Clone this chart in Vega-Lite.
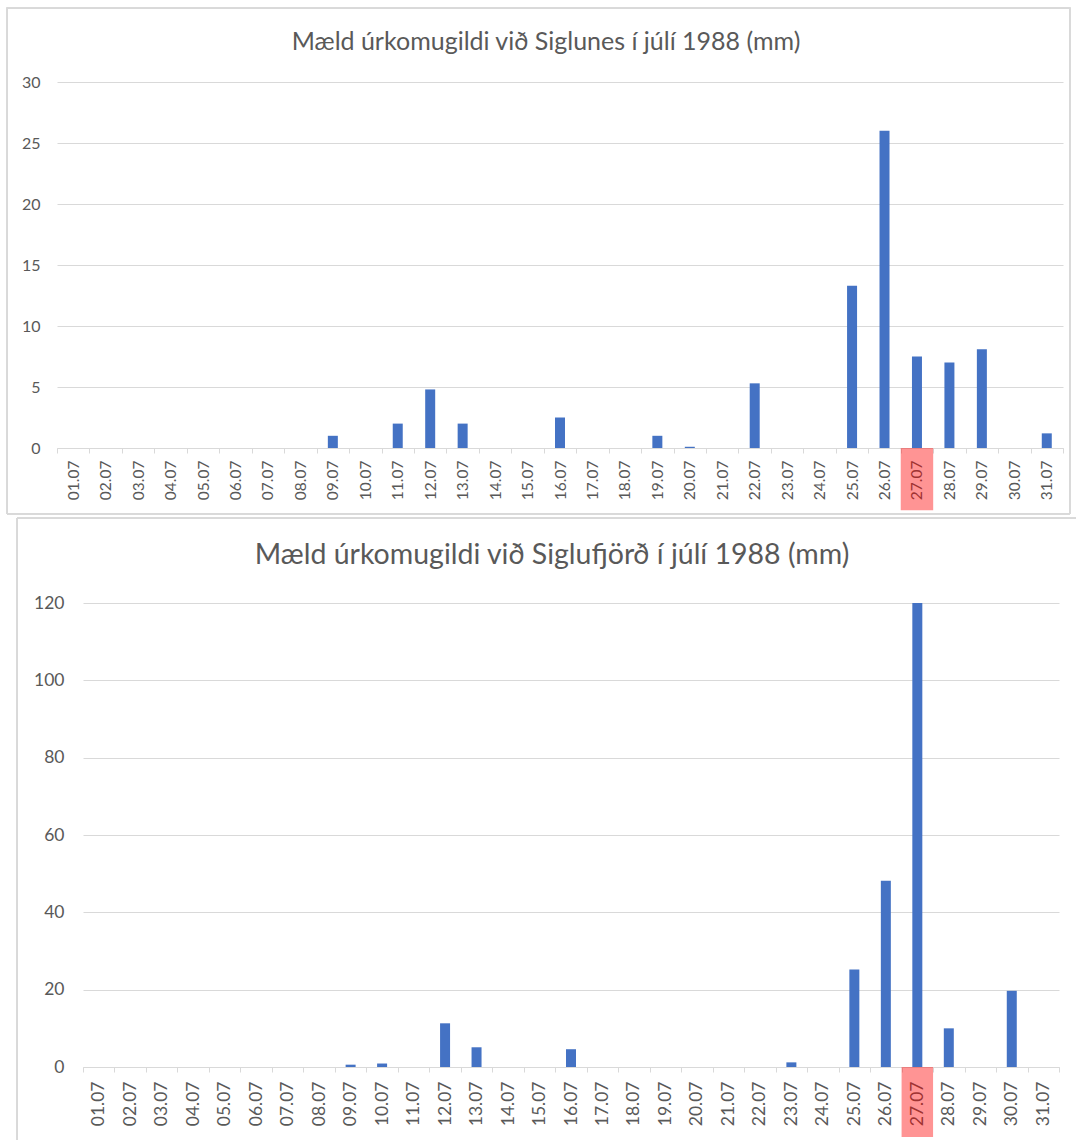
{
  "$schema": "https://vega.github.io/schema/vega-lite/v6.json",
  "background": "white",
  "padding": {"left": 0, "top": 7, "right": 0, "bottom": 0},
  "config": {
    "font": "Lato",
    "view": {"stroke": null},
    "axis": {"labelColor": "#595959", "titleColor": "#595959"}
  },
  "datasets": {
    "siglunes": [
      {"dagur": "01.07", "mm": 0}, {"dagur": "02.07", "mm": 0}, {"dagur": "03.07", "mm": 0}, {"dagur": "04.07", "mm": 0},
      {"dagur": "05.07", "mm": 0}, {"dagur": "06.07", "mm": 0}, {"dagur": "07.07", "mm": 0}, {"dagur": "08.07", "mm": 0},
      {"dagur": "09.07", "mm": 1.0}, {"dagur": "10.07", "mm": 0}, {"dagur": "11.07", "mm": 2.0}, {"dagur": "12.07", "mm": 4.8},
      {"dagur": "13.07", "mm": 2.0}, {"dagur": "14.07", "mm": 0}, {"dagur": "15.07", "mm": 0}, {"dagur": "16.07", "mm": 2.5},
      {"dagur": "17.07", "mm": 0}, {"dagur": "18.07", "mm": 0}, {"dagur": "19.07", "mm": 1.0}, {"dagur": "20.07", "mm": 0.1},
      {"dagur": "21.07", "mm": 0}, {"dagur": "22.07", "mm": 5.3}, {"dagur": "23.07", "mm": 0}, {"dagur": "24.07", "mm": 0},
      {"dagur": "25.07", "mm": 13.3}, {"dagur": "26.07", "mm": 26.0}, {"dagur": "27.07", "mm": 7.5}, {"dagur": "28.07", "mm": 7.0},
      {"dagur": "29.07", "mm": 8.1}, {"dagur": "30.07", "mm": 0}, {"dagur": "31.07", "mm": 1.2}
    ],
    "siglufjordur": [
      {"dagur": "01.07", "mm": 0}, {"dagur": "02.07", "mm": 0}, {"dagur": "03.07", "mm": 0}, {"dagur": "04.07", "mm": 0},
      {"dagur": "05.07", "mm": 0}, {"dagur": "06.07", "mm": 0}, {"dagur": "07.07", "mm": 0}, {"dagur": "08.07", "mm": 0},
      {"dagur": "09.07", "mm": 0.6}, {"dagur": "10.07", "mm": 0.9}, {"dagur": "11.07", "mm": 0}, {"dagur": "12.07", "mm": 11.3},
      {"dagur": "13.07", "mm": 5.1}, {"dagur": "14.07", "mm": 0}, {"dagur": "15.07", "mm": 0}, {"dagur": "16.07", "mm": 4.6},
      {"dagur": "17.07", "mm": 0}, {"dagur": "18.07", "mm": 0}, {"dagur": "19.07", "mm": 0}, {"dagur": "20.07", "mm": 0},
      {"dagur": "21.07", "mm": 0}, {"dagur": "22.07", "mm": 0}, {"dagur": "23.07", "mm": 1.2}, {"dagur": "24.07", "mm": 0},
      {"dagur": "25.07", "mm": 25.2}, {"dagur": "26.07", "mm": 48.2}, {"dagur": "27.07", "mm": 120}, {"dagur": "28.07", "mm": 10.0},
      {"dagur": "29.07", "mm": 0}, {"dagur": "30.07", "mm": 19.7}, {"dagur": "31.07", "mm": 0}
    ]
  },
  "spacing": 2,
  "vconcat": [
    {
      "width": 1006,
      "height": 366,
      "title": {"text": "Mæld úrkomugildi við Siglunes í júlí 1988 (mm)", "fontSize": 25, "fontWeight": "normal", "color": "#595959", "offset": -48, "frame": "group", "dx": -14},
      "data": {"name": "siglunes"},
      "layer": [
        {
          "mark": {"type": "bar", "color": "#4472C4", "width": 10},
          "encoding": {
            "x": {"field": "dagur", "type": "ordinal", "sort": null, "scale": {"paddingInner": 0, "paddingOuter": 0},
              "axis": {"title": null, "labelAngle": -90, "labelAlign": "right", "labelBaseline": "middle", "labelFontSize": 15.5, "labelPadding": 7, "tickBand": "extent", "tickColor": "#d9d9d9", "tickSize": 5, "domainColor": "#d9d9d9", "grid": false}},
            "y": {"field": "mm", "type": "quantitative", "scale": {"domain": [0, 30], "nice": false},
              "axis": {"title": null, "values": [0, 5, 10, 15, 20, 25, 30], "domain": false, "ticks": false, "gridColor": "#d9d9d9", "labelFontSize": 16, "labelPadding": 17, "minExtent": 57, "maxExtent": 57}}
          }
        },
        {
          "transform": [{"filter": "datum.dagur == '27.07'"}],
          "mark": {"type": "rect", "color": "#ff0000", "opacity": 0.42},
          "encoding": {
            "x": {"field": "dagur", "type": "ordinal", "sort": null},
            "y": {"datum": 0, "type": "quantitative"},
            "y2": {"datum": -5.1}
          }
        },
        {
          "mark": {"type": "rect", "fillOpacity": 0, "stroke": "#d9d9d9", "strokeWidth": 1},
          "encoding": {
            "x": {"datum": "01.07", "bandPosition": -1.54},
            "x2": {"datum": "31.07", "bandPosition": 1.216},
            "y": {"datum": 36.07, "type": "quantitative"},
            "y2": {"datum": -5.41}
          }
        }
      ]
    },
    {
      "width": 1002,
      "height": 464,
      "title": {"text": "Mæld úrkomugildi við Siglufjörð í júlí 1988 (mm)", "fontSize": 28.5, "fontWeight": "normal", "color": "#595959", "offset": -52, "frame": "group", "dx": -6},
      "data": {"name": "siglufjordur"},
      "layer": [
        {
          "mark": {"type": "bar", "color": "#4472C4", "width": 10},
          "encoding": {
            "x": {"field": "dagur", "type": "ordinal", "sort": null, "scale": {"paddingInner": 0, "paddingOuter": 0, "range": [26, 1002]},
              "axis": {"title": null, "labelAngle": -90, "labelAlign": "right", "labelBaseline": "middle", "labelFontSize": 17.5, "labelPadding": 9, "tickBand": "extent", "tickColor": "#d9d9d9", "tickSize": 5, "domainColor": "#d9d9d9", "grid": false}},
            "y": {"field": "mm", "type": "quantitative", "scale": {"domain": [0, 120], "nice": false},
              "axis": {"title": null, "values": [0, 20, 40, 60, 80, 100, 120], "domain": false, "ticks": false, "gridColor": "#d9d9d9", "labelFontSize": 17.5, "labelPadding": -7, "minExtent": 57, "maxExtent": 57}}
          }
        },
        {
          "transform": [{"filter": "datum.dagur == '27.07'"}],
          "mark": {"type": "rect", "color": "#ff0000", "opacity": 0.42},
          "encoding": {
            "x": {"field": "dagur", "type": "ordinal", "sort": null},
            "y": {"datum": 0, "type": "quantitative"},
            "y2": {"datum": -18.1}
          }
        },
        {
          "mark": {"type": "rect", "fillOpacity": 0, "stroke": "#d9d9d9", "strokeWidth": 1},
          "encoding": {
            "x": {"datum": "01.07", "bandPosition": -2.097},
            "x2": {"datum": "31.07", "bandPosition": 1.7},
            "y": {"datum": 141.95, "type": "quantitative"},
            "y2": {"datum": -19.6}
          }
        }
      ]
    }
  ]
}
